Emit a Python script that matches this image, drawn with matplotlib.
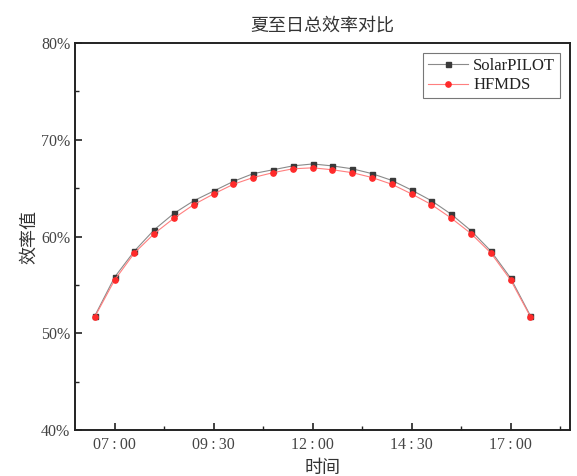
import matplotlib
matplotlib.use("Agg")
import matplotlib.pyplot as plt
from matplotlib.ticker import FixedLocator, FuncFormatter, MultipleLocator

plt.rcParams["font.family"] = ["Liberation Serif", "Noto Sans CJK SC", "DejaVu Sans"]
CJK = ["Noto Sans CJK SC", "DejaVu Sans"]

# sample times (half-hour steps, 06:30 - 17:30), as minutes after midnight
times = ["06:30", "07:00", "07:30", "08:00", "08:30", "09:00", "09:30", "10:00",
         "10:30", "11:00", "11:30", "12:00", "12:30", "13:00", "13:30", "14:00",
         "14:30", "15:00", "15:30", "16:00", "16:30", "17:00", "17:30"]
solarpilot = [51.8, 55.8, 58.5, 60.7, 62.4, 63.7, 64.7, 65.7, 66.5, 66.9, 67.3, 67.5,
              67.3, 67.0, 66.5, 65.8, 64.8, 63.7, 62.3, 60.6, 58.5, 55.7, 51.8]
hfmds = [51.7, 55.5, 58.3, 60.3, 61.9, 63.3, 64.4, 65.4, 66.1, 66.6, 67.0, 67.1,
         66.9, 66.6, 66.1, 65.4, 64.4, 63.3, 61.9, 60.3, 58.3, 55.5, 51.7]
major_ticks = ["07:00", "09:30", "12:00", "14:30", "17:00"]


def to_min(s):
    h, m = s.split(":")
    return int(h) * 60 + int(m)


x = [to_min(t) for t in times]

fig = plt.figure(figsize=(5.77, 4.76), dpi=100)
ax = fig.add_axes([0.130, 0.0966, 0.858, 0.813])

ax.plot(x, solarpilot, color="#8a8a8a", lw=0.8, marker="s", ms=3.6,
        mfc="#3a3a3a", mec="#3a3a3a", label="SolarPILOT", zorder=3)
ax.plot(x, hfmds, color="#ff7f7f", lw=0.8, marker="o", ms=3.8,
        mfc="#ff2a2a", mec="#ff2a2a", label="HFMDS", zorder=4)

ax.set_xlim(to_min("06:00"), to_min("18:30"))
ax.set_ylim(40, 80)
ax.xaxis.set_major_locator(FixedLocator([to_min(t) for t in major_ticks]))
ax.xaxis.set_minor_locator(FixedLocator([to_min(t) + 75 for t in major_ticks]))
ax.xaxis.set_major_formatter(
    FuncFormatter(lambda v, p: f"{int(v)//60:02d}\u2009:\u2009{int(v)%60:02d}"))
ax.yaxis.set_major_locator(MultipleLocator(10))
ax.yaxis.set_minor_locator(MultipleLocator(5))
ax.yaxis.set_major_formatter(FuncFormatter(lambda v, p: f"{v:.0f}%"))

ax.tick_params(which="both", direction="in", top=False, right=False,
               colors="#222222", labelcolor="#444444", labelsize=11.5)
ax.tick_params(which="major", length=5, width=1.2)
ax.tick_params(which="minor", length=3, width=1.0)
ax.tick_params(axis="x", pad=5)
for s in ax.spines.values():
    s.set_linewidth(1.4)
    s.set_color("#222222")

ax.set_title("夏至日总效率对比", family=CJK, fontsize=13, color="#333333", pad=9)
ax.set_xlabel("时间", family=CJK, fontsize=13, color="#333333", labelpad=4)
ax.set_ylabel("效率值", family=CJK, fontsize=13, color="#333333", labelpad=2)

leg = ax.legend(loc="upper right", fontsize=12, frameon=True, fancybox=False,
                edgecolor="#555555", handlelength=2.4, borderpad=0.3,
                labelspacing=0.2, handletextpad=0.3, borderaxespad=0.6)
leg.get_frame().set_linewidth(0.8)
for t in leg.get_texts():
    t.set_color("#222222")

fig.savefig("out.png", dpi=100)
